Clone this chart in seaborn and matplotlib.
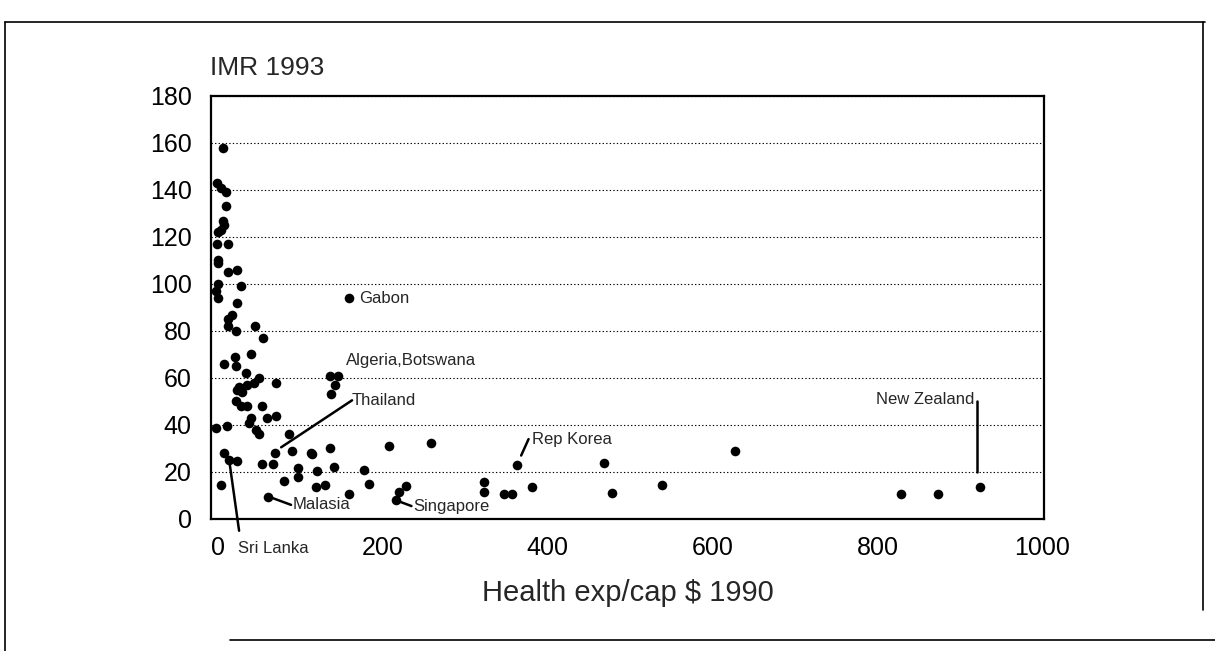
import matplotlib
matplotlib.use("Agg")
import matplotlib.pyplot as plt
from matplotlib.lines import Line2D
import seaborn as sns
import pandas as pd

# health expenditure per capita 1990 ($) vs infant mortality 1993
health_exp = [
    6, -1, 4, 10, 10, 6, 8, 4, 0, -1, 12, 1, 0, 13, 24, 1, -2, 1, 28, 23,
    18, 13, 12, 22, 45, 55, 40, 21, 8, 22, 34, 50, 44, 71, 26, 36, 30, 24,
    22, 28, 36, 54, 40, 38, 60, 71, 46, 50, -2, 11, 86, 90, 70, 113, 8, 14,
    23, 54, 67, 98, 98, 81, 4, 61,
    136, 146, 142, 137, 115, 136, 208, 259, 121, 141, 119, 130, 178, 184,
    159, 228, 220, 216, 323, 323, 347, 357, 363, 469, 478, 539, 381, 627,
    829, 874, 924, 159,
]
imr_1993 = [
    158, 143, 141, 139, 133, 127, 125, 123, 122, 117, 117, 110, 109, 105, 106, 100, 97, 94, 99, 92,
    87, 85, 82, 80, 82, 77, 70, 69, 66, 65, 62, 60, 58, 58, 56, 57, 54, 55,
    50, 48, 48, 48, 43, 41, 43, 44, 38, 36, 38.5, 39.5, 36, 29, 28, 28, 28, 25,
    24.5, 23.6, 23.6, 21.5, 18, 16, 14.4, 9.5,
    61, 61, 57, 53, 27.6, 30.3, 31, 32.4, 20.5, 22, 13.7, 14.6, 20.8, 14.8,
    10.6, 14, 11.6, 8, 15.6, 11.3, 10.6, 10.6, 23, 24, 11, 14.4, 13.7, 29,
    10.6, 10.8, 13.4, 94,
]

# labelled countries: text, text position, optional leader line (x0, y0, x1, y1)
labels = ["Gabon", "Algeria,Botswana", "Thailand", "Rep Korea", "New Zealand",
          "Malasia", "Singapore", "Sri Lanka"]
label_xy = [(171, 94), (155, 67.5), (163, 50.5), (381, 34), (918, 51),
            (91, 6), (237, 5.5), (25, -12.5)]
label_ha = ["left", "left", "left", "left", "right", "left", "left", "left"]
leaders = [None, None, (163, 50.5, 77, 30.5), (377, 34, 368, 27),
           (921, 50, 921, 20), (62, 9.5, 89, 6), (216, 8, 235, 5.5),
           (14, 25, 26, -5)]

df = pd.DataFrame({"exp": health_exp, "imr": imr_1993})

sns.set_style("white")
plt.rcParams["font.family"] = ["Liberation Sans Narrow", "Liberation Sans", "DejaVu Sans"]

fig = plt.figure(figsize=(12.15, 6.51), dpi=100)
ax = fig.add_axes([0.1737, 0.2028, 0.6856, 0.6498])

sns.scatterplot(data=df, x="exp", y="imr", ax=ax, color="black", s=48,
                edgecolor="black", linewidth=0, zorder=3)

ax.set_xlim(-8, 1002)
ax.set_ylim(0, 180)
ax.set_xticks(range(0, 1001, 200))
ax.set_yticks(range(0, 181, 20))
ax.tick_params(axis="y", direction="in", length=7, width=1.2, pad=14,
               labelsize=18, colors="black")
ax.tick_params(axis="x", length=0, pad=12, labelsize=18, colors="black")
ax.yaxis.grid(True, linestyle=(0, (1.2, 2)), color="black", linewidth=0.8)
ax.xaxis.grid(False)
for sp in ax.spines.values():
    sp.set_visible(True)
    sp.set_color("black")
    sp.set_linewidth(1.6)

ax.set_xlabel("Health exp/cap $ 1990", fontsize=21, labelpad=14)
ax.set_ylabel("")
fig.text(0.1728, 0.885, "IMR 1993", fontsize=19, ha="left", va="baseline")

for txt, (tx, ty), ha, ld in zip(labels, label_xy, label_ha, leaders):
    ax.text(tx, ty, txt, fontsize=12, ha=ha, va="center", clip_on=False)
    if ld is not None:
        ax.plot([ld[0], ld[2]], [ld[1], ld[3]], color="black", lw=1.8,
                clip_on=False, zorder=4)

# scanned page frame
for xs, ys in [((5, 1205), (22, 22)), ((5, 5), (22, 651)),
               ((1203, 1203), (22, 610)), ((230, 1215), (640, 640))]:
    fig.add_artist(Line2D([x / 1215 for x in xs], [1 - y / 651 for y in ys],
                          color="black", lw=1.2))

fig.savefig("out.png", dpi=100)
